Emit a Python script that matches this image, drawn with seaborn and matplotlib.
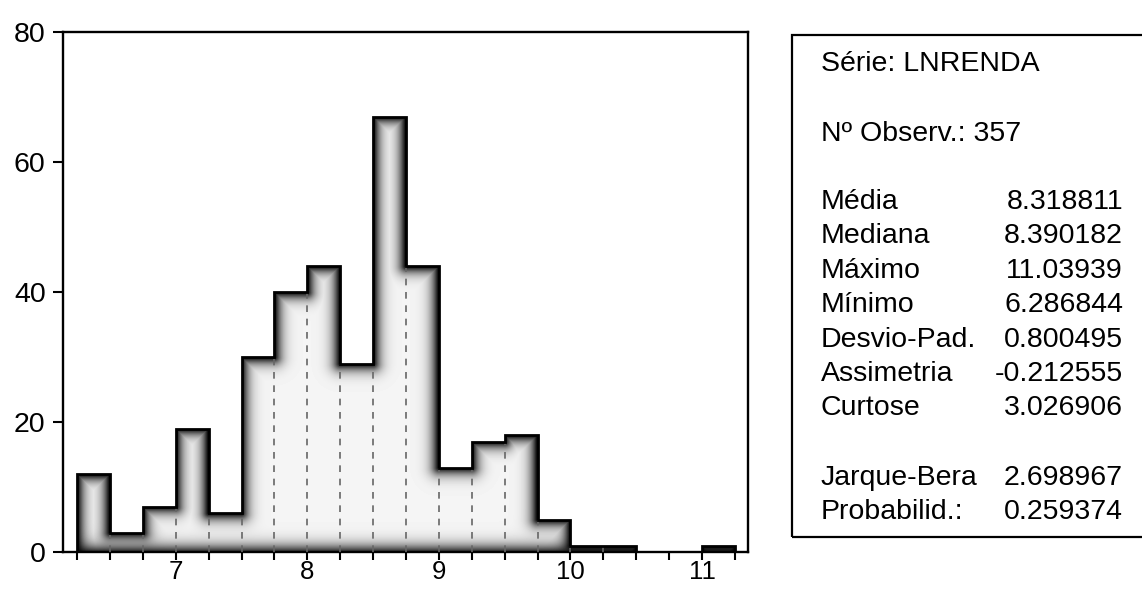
import numpy as np
import pandas as pd
import matplotlib
matplotlib.use("Agg")
import matplotlib.pyplot as plt
from matplotlib.patches import Polygon, Rectangle
import seaborn as sns

# Histogram of LNRENDA: bins of width 0.25 starting at 6.25
bin_start = 6.25
bin_width = 0.25
counts = [12, 3, 7, 19, 6, 30, 40, 44, 29, 67, 44, 13, 17, 18, 5, 1, 1, 0, 0, 1]
x_major_ticks = [7, 8, 9, 10, 11]
y_ticks = [0, 20, 40, 60, 80]

# Descriptive statistics panel
series_name = "LNRENDA"
n_obs = 357
stat_labels = ["Média", "Mediana", "Máximo", "Mínimo", "Desvio-Pad.", "Assimetria", "Curtose"]
stat_values = ["8.318811", "8.390182", "11.03939", "6.286844", "0.800495", "-0.212555", "3.026906"]
test_labels = ["Jarque-Bera", "Probabilid.:"]
test_values = ["2.698967", "0.259374"]

sns.set_style("ticks")
plt.rcParams["font.family"] = ["Liberation Sans", "DejaVu Sans"]
for key in ("text.color", "axes.labelcolor", "xtick.color", "ytick.color", "axes.edgecolor"):
    plt.rcParams[key] = "black"

W, H = 1142, 589
fig = plt.figure(figsize=(W / 100, H / 100), dpi=100)
fig.patch.set_facecolor("white")
ax = fig.add_axes([63 / W, 1 - 552 / H, (748 - 63) / W, (552 - 32) / H])

counts_arr = np.array(counts, dtype=float)
edges = bin_start + bin_width * np.arange(len(counts) + 1)
centers = (edges[:-1] + edges[1:]) / 2
df = pd.DataFrame({"lnrenda": centers, "freq": counts_arr})

# white base bars
sns.histplot(data=df, x="lnrenda", weights="freq", bins=list(edges), stat="count",
             element="bars", fill=True, color="white", alpha=1.0,
             linewidth=0, ax=ax, zorder=1)

ax.set_xlim(6.143, 11.349)
ax.set_ylim(0, 80)

# pixel scale of the data axes, used for the shading falloff
p0 = ax.transData.transform((edges[0], 0))
p1 = ax.transData.transform((edges[-1], 80))
sx = (p1[0] - p0[0]) / (edges[-1] - edges[0])
sy = (p1[1] - p0[1]) / 80.0

ymax = counts_arr.max()
nx = int(round((edges[-1] - edges[0]) * sx))
ny = int(round(ymax * sy))
xs = edges[0] + (np.arange(nx) + 0.5) / sx
ys = (np.arange(ny) + 0.5) / sy
X, Y = np.meshgrid(xs, ys)

# distance (in pixels) from each point to the outside of the histogram shape
d = np.minimum((X - edges[0]) * sx, (edges[-1] - X) * sx)
for j, h in enumerate(counts_arr):
    dx = np.maximum(0, np.maximum(edges[j] - X, X - edges[j + 1])) * sx
    dy = np.maximum(0, h - Y) * sy
    d = np.minimum(d, np.hypot(dx, dy))

edge_dark = np.exp(-(d / 7.5) ** 1.3)
bottom_dark = 0.85 * np.exp(-((Y * sy) / 8.0) ** 1.3)
shade = 1 - (1 - edge_dark) * (1 - bottom_dark) * (1 - 0.04)
img = 1 - shade

im = ax.imshow(img, cmap="gray", vmin=0, vmax=1, origin="lower",
               extent=(edges[0], edges[-1], 0, ymax), aspect="auto",
               interpolation="bilinear", zorder=2)
verts = [(edges[0], 0)]
for j, h in enumerate(counts_arr):
    verts += [(edges[j], h), (edges[j + 1], h)]
verts += [(edges[-1], 0)]
clip = Polygon(verts, closed=True, transform=ax.transData, facecolor="none", edgecolor="none")
ax.add_patch(clip)
im.set_clip_path(clip)

# dashed separators between adjacent bars
for k in range(1, len(counts_arr)):
    top = min(counts_arr[k - 1], counts_arr[k])
    if top > 0:
        ax.vlines(edges[k], 0, top, colors="#666666", linestyles=(0, (4, 4)),
                  linewidth=1.2, zorder=3)

# outline of the histogram
ax.stairs(counts_arr, edges, baseline=0, color="black", linewidth=2.0, zorder=4)

ax.set_xlim(6.143, 11.349)
ax.set_ylim(0, 80)
ax.set_xticks(x_major_ticks)
ax.set_xticklabels([str(t) for t in x_major_ticks])
ax.set_xticks(edges, minor=True)
ax.set_yticks(y_ticks)
ax.set_yticklabels([str(t) for t in y_ticks])
ax.tick_params(axis="x", which="both", direction="out", length=5.5, width=1.5,
               pad=0, labelsize=18.5, color="black", labelcolor="black")
ax.tick_params(axis="y", which="both", direction="out", length=7.5, width=1.5,
               pad=5, labelsize=20.5, color="black", labelcolor="black")
ax.set_xlabel("")
ax.set_ylabel("")
for s in ax.spines.values():
    s.set_visible(True)
    s.set_linewidth(1.7)
    s.set_color("black")
ax.grid(False)

# statistics panel
fig.patches.append(Rectangle((792 / W, 1 - 537 / H), 0.5, (537 - 35) / H,
                             transform=fig.transFigure, fill=False,
                             edgecolor="black", linewidth=1.6))
fs = 20.5
lx, rx = 821 / W, 1123 / W


def put(y_px, left, right=None):
    fig.text(lx, 1 - y_px / H, left, fontsize=fs, ha="left", va="baseline", color="black")
    if right is not None:
        fig.text(rx, 1 - y_px / H, right, fontsize=fs, ha="right", va="baseline", color="black")


put(71, f"Série: {series_name}")
put(141, f"Nº Observ.: {n_obs}")
for i, (lab, val) in enumerate(zip(stat_labels, stat_values)):
    put(209 + i * 34.4, lab, val)
for i, (lab, val) in enumerate(zip(test_labels, test_values)):
    put(485 + i * 34.4, lab, val)

fig.savefig("out.png", dpi=100, facecolor="white")
